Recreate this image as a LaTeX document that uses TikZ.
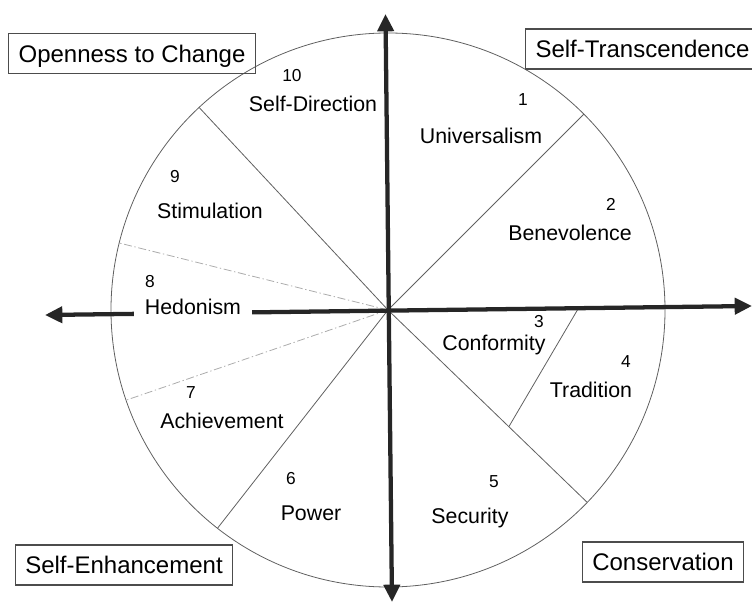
\documentclass[tikz,border=0pt]{standalone}
\usepackage{fontspec}
\setmainfont{Liberation Sans}
\usetikzlibrary{arrows.meta}
\usetikzlibrary{positioning}
\tikzset{axis/.style = {line width = 3.2pt, black!85, <->,
    >={Triangle[length = 13pt, width = 12pt]}}}
\tikzset{sector/.style = {gray!75!black, line width = 0.6pt}}
\tikzset{split/.style = {gray!65, line width = 0.6pt,
    dash pattern = on 6pt off 2pt on 1pt off 2pt}}
\tikzset{val/.style = {font = \fontsize{16}{19}\selectfont, text height = 11.5pt,
    text depth = 0pt, inner sep = 0}}
\tikzset{num/.style = {font = \fontsize{13}{15}\selectfont, text height = 9.3pt,
    text depth = 0pt, inner sep = 0}}
\tikzset{group/.style = {draw = gray!60!black, line width = 0.8pt,
    font = \fontsize{18}{21}\selectfont, text height = 13pt, text depth = 0pt,
    inner xsep = 7.5pt, minimum height = 30pt}}

\begin{document}
\begin{tikzpicture}[x = 0.75pt, y = 0.75pt]
    \useasboundingbox (-388, -292) rectangle (364, 310);
    \coordinate (c) at (0, 0);

    \draw [gray!75!black, line width = 0.6pt] (c) circle (277);

    \foreach \a in {45, 133, 232, -44} {
      \draw [sector] (c) -- (\a:277);
    }
    \foreach \a in {166, 199} {
      \draw [split] (c) -- (\a:277);
    }
    \coordinate (t1) at (190, 1);
    \coordinate (t2) at (-44:168);
    \draw [sector] (t1) -- (t2);

    \coordinate (west) at (-343, -5);
    \coordinate (east) at (364, 4);
    \coordinate (north) at (-2.5, 296);
    \coordinate (south) at (4, -292);
    \draw [axis] (west) -- (east);
    \draw [axis] (south) -- (north);

    \node [val, fill = white, inner xsep = 8pt, inner ysep = 2pt] (hedonism) at (-195, 3) {Hedonism};

    \foreach \name/\txt/\x/\y in {selfdir/Self-Direction/-75/206,
        universalism/Universalism/93/174, benevolence/Benevolence/182/77,
        stimulation/Stimulation/-178/99, achievement/Achievement/-166/-111,
        power/Power/-77/-203, security/Security/82/-206,
        conformity/Conformity/106/-33, tradition/Tradition/203/-80} {
      \node [val] (\name) at (\x, \y) {\txt};
    }

    \foreach \n/\x/\y in {1/135/211, 2/223/106, 3/151/-11, 4/238/-51,
        5/106/-171, 6/-97/-168, 7/-197/-82, 8/-238/29, 9/-213/134, 10/-96/235} {
      \node [num] (n\n) at (\x, \y) {\n};
    }

    \node [group] (openness) at (-256, 256.5) {Openness to Change};
    \node [group, anchor = west] (transcend) at (137, 261) {Self-Transcendence};
    \node [group] (enhance) at (-264, -255) {Self-Enhancement};
    \node [group] (conserve) at (275, -252) {Conservation};
  \end{tikzpicture}
\end{document}
